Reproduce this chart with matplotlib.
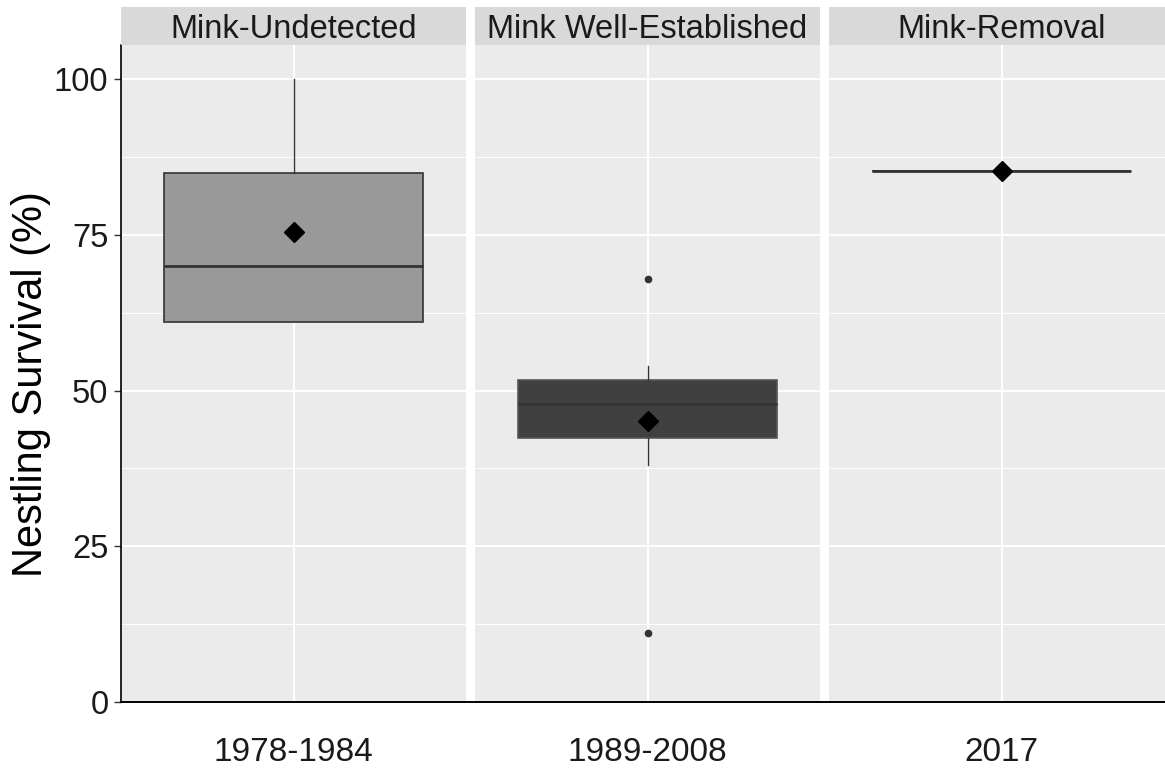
import matplotlib.pyplot as plt
from matplotlib.lines import Line2D

plt.rcParams['font.family'] = ['Liberation Sans', 'DejaVu Sans']

# --- data ---
periods = ['Mink-Undetected', 'Mink Well-Established', 'Mink-Removal']
year_labels = ['1978-1984', '1989-2008', '2017']
q1 = [61.0, 42.4, 85.3]
median = [70.0, 47.9, 85.3]
q3 = [85.0, 51.7, 85.3]
whisker_lo = [61.0, 38.0, 85.3]
whisker_hi = [100.0, 54.0, 85.3]
mean = [75.4, 45.2, 85.3]
outliers = [[], [68.0, 11.0], []]
y_ticks = [0, 25, 50, 75, 100]
y_minor = [12.5, 37.5, 62.5, 87.5]

box_fill = ['#999999', '#404040', '#404040']
box_edge = ['#333333', '#555555', '#333333']

W, H = 1165, 773
fig = plt.figure(figsize=(W / 100, H / 100), dpi=100)

panel_left = [121, 475, 829]
panel_w = 345
top_px, bottom_px = 45, 702
strip_top = 7


def fx(px):
    return px / W


def fy(py):
    return 1 - py / H


for i in range(3):
    ax = fig.add_axes([fx(panel_left[i]), fy(bottom_px), fx(panel_w),
                       (bottom_px - top_px) / H])
    ax.set_facecolor('#ebebeb')
    ax.set_xlim(0.4, 1.6)
    ax.set_ylim(0, 105.5)

    # grid
    for v in y_ticks:
        ax.axhline(v, color='white', lw=1.4, zorder=0)
    for v in y_minor:
        ax.axhline(v, color='white', lw=0.7, zorder=0)
    ax.axvline(1, color='white', lw=1.4, zorder=0)

    stats = [dict(med=median[i], q1=q1[i], q3=q3[i], whislo=whisker_lo[i],
                  whishi=whisker_hi[i], fliers=outliers[i], mean=mean[i])]
    ax.bxp(stats, positions=[1], widths=0.9, patch_artist=True,
           showmeans=True, showcaps=False,
           boxprops=dict(facecolor=box_fill[i], edgecolor=box_edge[i], lw=1.2),
           medianprops=dict(color='#333333', lw=2),
           whiskerprops=dict(color='#333333', lw=1),
           flierprops=dict(marker='o', markerfacecolor='#333333',
                           markeredgecolor='#333333', markersize=4.5),
           meanprops=dict(marker='D', markerfacecolor='black',
                          markeredgecolor='black', markersize=10.5))

    for s in ax.spines.values():
        s.set_visible(False)
    ax.set_xticks([1])
    ax.set_xticklabels([year_labels[i]], fontsize=24, color='#1a1a1a')
    ax.tick_params(axis='x', length=0, pad=25)
    if i == 0:
        ax.spines['left'].set_visible(True)
        ax.spines['left'].set_color('black')
        ax.spines['left'].set_linewidth(1.2)
        ax.set_yticks(y_ticks)
        ax.set_yticklabels([str(t) for t in y_ticks], fontsize=23.5, color='#1a1a1a')
        ax.tick_params(axis='y', length=5, width=1, color='#333333', pad=4)
    else:
        ax.set_yticks([])

    # facet strip
    sax = fig.add_axes([fx(panel_left[i]), fy(top_px), fx(panel_w),
                        (top_px - strip_top) / H])
    sax.set_facecolor('#d9d9d9')
    sax.set_xticks([])
    sax.set_yticks([])
    for s in sax.spines.values():
        s.set_visible(False)
    sax.text(0.5, 0.42, periods[i], ha='center', va='center',
             fontsize=23.5, color='#1a1a1a', transform=sax.transAxes)

# y axis title
fig.text(fx(31), fy(384), 'Nestling Survival (%)', rotation=90,
         ha='center', va='center', fontsize=30, color='black')

# bottom axis line running across all panels
fig.add_artist(Line2D([fx(121), 1.0], [fy(bottom_px), fy(bottom_px)],
                      color='black', lw=1.4, transform=fig.transFigure))

fig.savefig('out.png', dpi=100, facecolor='white')
